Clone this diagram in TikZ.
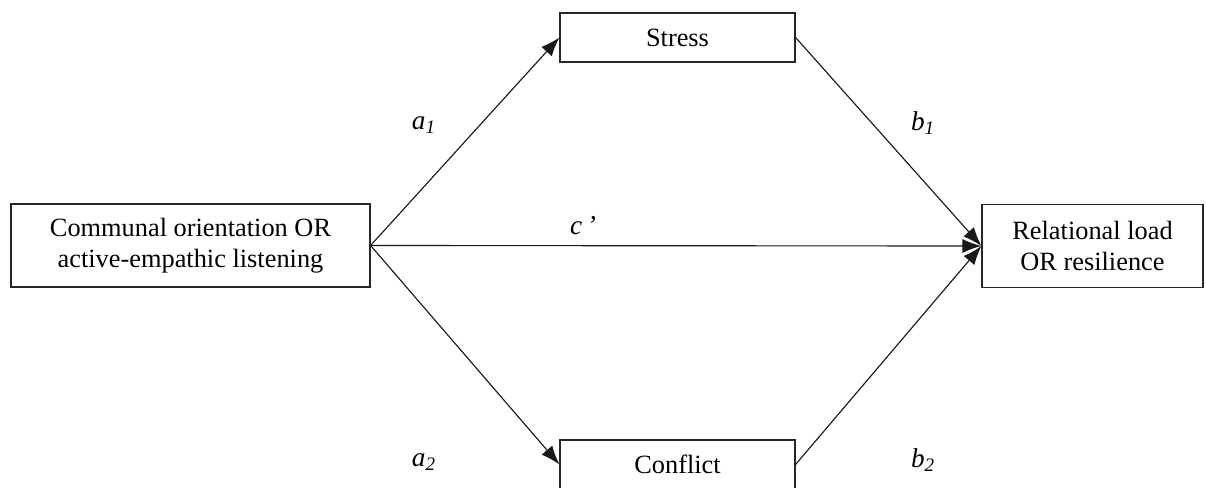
\documentclass[tikz,border=0pt]{standalone}
\usepackage{fontspec}
\setmainfont{Liberation Serif}
\usetikzlibrary{arrows.meta}
\begin{document}
\begin{tikzpicture}[x=0.02cm,y=-0.02cm,
  box/.style={draw=black!85, line width=0.7pt, align=center, inner sep=0pt,
    font=\fontsize{15}{17.5}\selectfont},
  arr/.style={draw=black!90, line width=0.65pt, -{Latex[length=3.8mm,width=2.8mm]}},
  lab/.style={font=\fontsize{15.5}{17.5}\selectfont\itshape}]
\useasboundingbox (0,0) rectangle (1206,487);
\node[box, minimum width=7.18cm, minimum height=1.66cm] (pred) at (190.5,245.5) {Communal orientation OR\\active-empathic listening};
\node[box, minimum width=4.7cm, minimum height=0.98cm] (stress) at (677.5,37.5) {Stress};
\node[box, minimum width=4.7cm, minimum height=0.98cm] (conflict) at (677.5,464.5) {Conflict};
\node[box, minimum width=4.42cm, minimum height=1.66cm] (out) at (1092.5,246) {Relational load\\OR resilience};
\draw[arr] (pred.east) -- (stress.west);
\draw[arr] (pred.east) -- (conflict.west);
\draw[arr] (pred.east) -- (out.west);
\draw[arr] (stress.east) -- (out.west);
\draw[arr] (conflict.east) -- (out.west);
\node[lab] (a1) at (424,125) {a\textsubscript{1}};
\node[lab] (b1) at (923,123) {b\textsubscript{1}};
\node[lab] (c) at (583,226) {c\,’};
\node[lab] (a2) at (424,462) {a\textsubscript{2}};
\node[lab] (b2) at (923,460) {b\textsubscript{2}};
\end{tikzpicture}
\end{document}
